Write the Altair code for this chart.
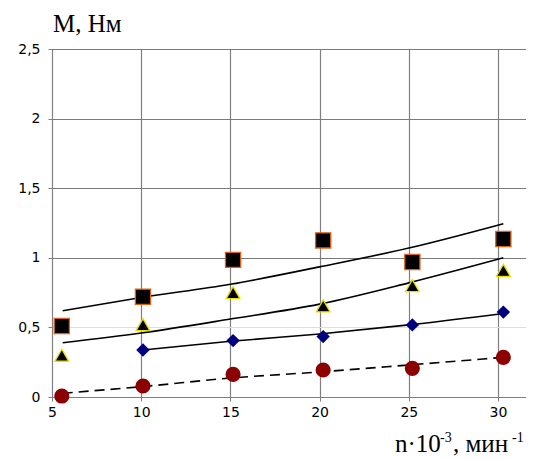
import altair as alt
import pandas as pd

# Measured points
x_pts = [5.55, 10.1, 15.15, 20.2, 25.2, 30.3]
sq_y = [0.51, 0.72, 0.985, 1.125, 0.97, 1.135]
tri_y = [0.30, 0.52, 0.75, 0.655, 0.80, 0.91]
dia_x = [10.1, 15.15, 20.2, 25.2, 30.3]
dia_y = [0.338, 0.405, 0.434, 0.518, 0.61]
cir_y = [0.007, 0.079, 0.163, 0.194, 0.206, 0.285]

# Trend curves
tr_x = [5.6, 10.0, 15.0, 20.0, 25.0, 30.3]
tr_sq = [0.62, 0.715, 0.81, 0.935, 1.07, 1.245]
tr_tri = [0.39, 0.46, 0.56, 0.667, 0.82, 1.0]
tr_dia_x = [10.1, 15.0, 20.0, 25.0, 30.3]
tr_dia = [0.338, 0.40, 0.453, 0.518, 0.60]
tr_cir = [0.027, 0.074, 0.136, 0.18, 0.23, 0.285]

x_ticks = [5, 10, 15, 20, 25, 30]
y_ticks = [0, 0.5, 1, 1.5, 2, 2.5]

pts = pd.concat([
    pd.DataFrame({"x": x_pts, "y": sq_y, "s": "sq"}),
    pd.DataFrame({"x": x_pts, "y": tri_y, "s": "tri"}),
    pd.DataFrame({"x": dia_x, "y": dia_y, "s": "dia"}),
    pd.DataFrame({"x": x_pts, "y": cir_y, "s": "cir"}),
])
trends = pd.concat([
    pd.DataFrame({"x": tr_x, "y": tr_sq, "s": "sq"}),
    pd.DataFrame({"x": tr_x, "y": tr_tri, "s": "tri"}),
    pd.DataFrame({"x": tr_dia_x, "y": tr_dia, "s": "dia"}),
])
dashed = pd.DataFrame({"x": tr_x, "y": tr_cir})

xs = alt.Scale(domain=[5, 31.57], nice=False, zero=False)
ys = alt.Scale(domain=[0, 2.5], nice=False)

xax = alt.Axis(values=x_ticks, title=None, grid=True, gridColor="#808080", gridWidth=1.2,
               tickSize=4, tickColor="#808080", domainColor="#808080",
               labelFont="DejaVu Sans", labelFontSize=14, labelColor="#000", labelPadding=4,
               labelFlush=False)
yax = alt.Axis(values=y_ticks, title=None, grid=True,
               gridColor={"condition": {"test": "datum.value == 0.5", "value": "#dddddd"},
                          "value": "#7a7a7a"},
               gridWidth=1.2,
               tickSize=4, tickColor="#808080", domainColor="#808080",
               labelFont="DejaVu Sans", labelFontSize=14, labelColor="#000", labelPadding=8,
               labelExpr="replace(format(datum.value, '~g'), '.', ',')")

base = alt.Chart(pts)

lines = alt.Chart(trends).mark_line(color="black", strokeWidth=1.6, interpolate="monotone").encode(
    x=alt.X("x:Q", scale=xs, axis=xax), y=alt.Y("y:Q", scale=ys, axis=yax), detail="s:N")
dash = alt.Chart(dashed).mark_line(color="black", strokeWidth=1.6, strokeDash=[10, 6],
                                   interpolate="monotone").encode(
    x=alt.X("x:Q", scale=xs), y=alt.Y("y:Q", scale=ys))

sq = base.transform_filter("datum.s == 'sq'").mark_point(
    shape="square", filled=True, fill="black", stroke="#e06010", strokeWidth=1.3, size=230, opacity=1
).encode(x=alt.X("x:Q", scale=xs), y=alt.Y("y:Q", scale=ys))
tri = base.transform_filter("datum.s == 'tri'").mark_point(
    shape="triangle-up", filled=True, fill="black", stroke="#e8e000", strokeWidth=1.3, size=190, opacity=1
).encode(x=alt.X("x:Q", scale=xs), y=alt.Y("y:Q", scale=ys))
dia = base.transform_filter("datum.s == 'dia'").mark_point(
    shape="diamond", filled=True, fill="#00007f", size=180, opacity=1
).encode(x=alt.X("x:Q", scale=xs), y=alt.Y("y:Q", scale=ys))
cir = base.transform_filter("datum.s == 'cir'").mark_point(
    shape="circle", filled=True, fill="#8b0000", size=230, opacity=1
).encode(x=alt.X("x:Q", scale=xs), y=alt.Y("y:Q", scale=ys))

serif = "Liberation Serif"
ytitle = alt.Chart(pd.DataFrame({"t": ["M, Нм"]})).mark_text(
    font=serif, fontSize=25, align="left", baseline="alphabetic", color="black"
).encode(x=alt.value(1), y=alt.value(-17), text="t:N")

def txt(t, xv, yv, fs):
    return alt.Chart(pd.DataFrame({"t": [t]})).mark_text(
        font=serif, fontSize=fs, align="left", baseline="alphabetic", color="black"
    ).encode(x=alt.value(xv), y=alt.value(yv), text="t:N")

xt = (txt("n·10", 343, 403, 25) + txt("-3", 388, 393, 14)
      + txt(", мин", 401, 403, 25) + txt("-1", 460, 393, 14))

chart = alt.layer(lines, dash, sq, tri, dia, cir, ytitle, xt).properties(
    width=474, height=348, autosize=alt.AutoSizeParams(type="none"),
    padding={"left": 44, "top": 41, "right": 0, "bottom": 61}
).configure_view(strokeWidth=0).configure(background="white")

chart.save("out.html", embed_options={"renderer": "svg", "actions": False})
